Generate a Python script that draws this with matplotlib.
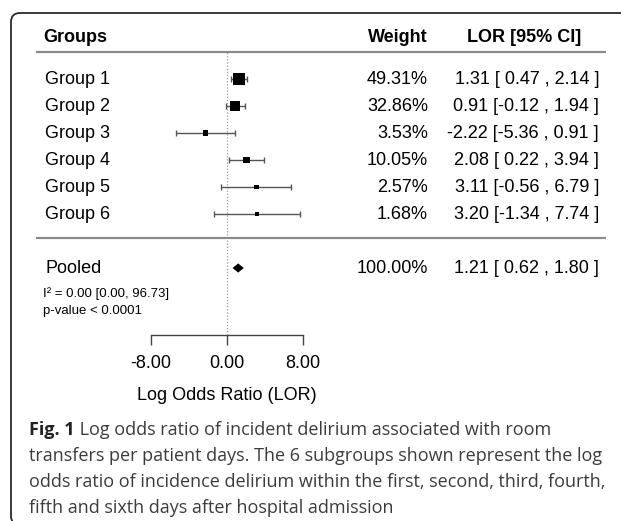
import numpy as np
import matplotlib.pyplot as plt
from matplotlib.path import Path
from matplotlib.patches import PathPatch

# data
groups = ['Group 1', 'Group 2', 'Group 3', 'Group 4', 'Group 5', 'Group 6']
weights = [49.31, 32.86, 3.53, 10.05, 2.57, 1.68]
lor = [1.31, 0.91, -2.22, 2.08, 3.11, 3.20]
ci_low = [0.47, -0.12, -5.36, 0.22, -0.56, -1.34]
ci_high = [2.14, 1.94, 0.91, 3.94, 6.79, 7.74]

pooled_label = 'Pooled'
pooled_weight = 100.00
pooled_lor = 1.21
pooled_low = 0.62
pooled_high = 1.80
het_lines = ['I\u00b2 = 0.00 [0.00, 96.73]', 'p-value < 0.0001']

xticks = [-8, 0, 8]
xlabel = 'Log Odds Ratio (LOR)'
headers = ['Groups', 'Weight', 'LOR [95% CI]']

caption_bold = 'Fig. 1'
caption_lines = [
    ' Log odds ratio of incident delirium associated with room',
    'transfers per patient days. The 6 subgroups shown represent the log',
    'odds ratio of incidence delirium within the first, second, third, fourth,',
    'fifth and sixth days after hospital admission',
]

W, H = 621, 521
fig = plt.figure(figsize=(W / 100, H / 100), dpi=100)
ax = fig.add_axes([0, 0, 1, 1])
ax.patch.set_visible(False)

# 9.5 px per unit, zero at 226.7 px; 27 px per row, first row 79 px from top
x0, ux = 226.7, 9.5
ax.set_xlim(-x0 / ux, (W - x0) / ux)
ax.set_ylim(6 - (H - 79) / 27, 6 + 79 / 27)

rows = np.arange(len(groups), 0, -1)
pooled_row = -1
axis_row = -3.48
xl, xr = -20.05, 39.9          # extent of the rule lines
x_lab, x_w, x_ci = -19.1, 21.2, 39.2

fam = 'Liberation Sans'
fs = 13

# zero reference line
ax.vlines(0, axis_row, 7, colors='#999999', linestyles=(0, (1, 1.5)), lw=0.9, zorder=1)

# rules
ax.hlines([7, 0.1], xl, xr, colors='#8a8a8a', lw=1.6)

# study estimates
lor_a = np.array(lor)
ax.errorbar(lor_a, rows, xerr=[lor_a - np.array(ci_low), np.array(ci_high) - lor_a],
            fmt='none', ecolor='#555555', elinewidth=1, capsize=2.5, capthick=1, zorder=2)
side = 2.5 + 1.35 * np.sqrt(weights)
ax.scatter(lor_a, rows, marker='s', s=(side * 0.72) ** 2, c='black', linewidths=0, zorder=3)

# pooled diamond
h = 0.17
ax.fill([pooled_low, pooled_lor, pooled_high, pooled_lor],
        [pooled_row, pooled_row + h, pooled_row, pooled_row - h], color='black', lw=0)

# headers
ax.text(x_lab - 0.2, 7.55, headers[0], ha='left', va='center', fontsize=fs, fontweight='bold', family=fam)
ax.text(x_w, 7.55, headers[1], ha='right', va='center', fontsize=fs, fontweight='bold', family=fam)
ax.text(31.3, 7.55, headers[2], ha='center', va='center', fontsize=fs, fontweight='bold', family=fam)

def ci_text(e, lo, hi):
    return '%.2f [%s , %.2f ]' % (e, ('%.2f' % lo).rjust(5), hi)

for r, g, w, e, lo, hi in zip(rows, groups, weights, lor, ci_low, ci_high):
    ax.text(x_lab, r, g, ha='left', va='center', fontsize=fs, family=fam)
    ax.text(x_w, r, '%.2f%%' % w, ha='right', va='center', fontsize=fs, family=fam)
    ax.text(x_ci, r, ci_text(e, lo, hi), ha='right', va='center', fontsize=fs, family=fam)

ax.text(x_lab, pooled_row, pooled_label, ha='left', va='center', fontsize=fs, family=fam)
ax.text(x_w, pooled_row, '%.2f%%' % pooled_weight, ha='right', va='center', fontsize=fs, family=fam)
ax.text(x_ci, pooled_row, ci_text(pooled_lor, pooled_low, pooled_high), ha='right', va='center',
        fontsize=fs, family=fam)
for yy, s in zip([-1.93, -2.59], het_lines):
    ax.text(x_lab - 0.25, yy, s, ha='left', va='center', fontsize=9.5, family=fam)

# bracket-style x axis
for k in ['top', 'left', 'right']:
    ax.spines[k].set_visible(False)
ax.spines['bottom'].set_position(('data', axis_row))
ax.spines['bottom'].set_bounds(xticks[0], xticks[-1])
ax.spines['bottom'].set_color('#444444')
ax.spines['bottom'].set_linewidth(1)
ax.set_yticks([])
ax.set_xticks(xticks)
ax.set_xticklabels(['%.2f' % t for t in xticks], fontsize=fs, family=fam)
ax.tick_params(axis='x', direction='out', length=7, width=1, color='#444444', pad=7.5)
ax.set_xlabel(xlabel, fontsize=fs, family=fam)
ax.xaxis.set_label_coords(0, 6 - (395 - 79) / 27, transform=ax.transData)
ax.xaxis.label.set_va('center')

# caption
cfs = 13.0
ccol = '#3c3c3c'
base = [435, 461, 487, 513]
t = fig.text(29 / W, 1 - base[0] / H, caption_bold, fontsize=cfs, fontweight='bold',
             family='Open Sans', color='#222222', va='baseline')
ax.annotate(caption_lines[0], xy=(1, 0), xycoords=t, ha='left', va='bottom',
            fontsize=cfs, family='Open Sans', color=ccol, annotation_clip=False)
for b, s in zip(base[1:], caption_lines[1:]):
    fig.text(29 / W, 1 - b / H, s, fontsize=cfs, family='Open Sans', color=ccol, va='baseline')

# journal frame: left and top edges with rounded corners (inches)
fl, ft, fb, r = 0.11, 5.08, -0.04, 0.09
verts = [(fl + r, fb), (fl, fb), (fl, fb + r), (fl, ft - r), (fl, ft), (fl + r, ft), (7.0, ft)]
codes = [Path.MOVETO, Path.CURVE3, Path.CURVE3, Path.LINETO, Path.CURVE3, Path.CURVE3, Path.LINETO]
fig.patches.append(PathPatch(Path(verts, codes), transform=fig.dpi_scale_trans, fill=False,
                             edgecolor='#2a2a2a', lw=1.3))

fig.savefig('out.png', dpi=100)
